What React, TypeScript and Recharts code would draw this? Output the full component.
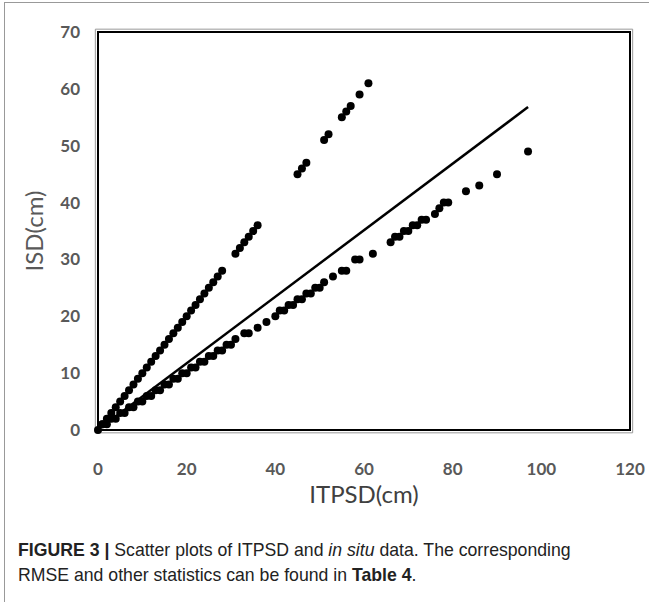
import React from "react";
import {
  ScatterChart,
  Scatter,
  XAxis,
  YAxis,
  ZAxis,
  ReferenceArea,
  Label
} from "recharts";

// ITPSD (x) vs in situ snow depth (y), both in cm
const upperX = [0, 1, 2, 3, 4, 5, 6, 7, 8, 9, 10, 11, 12, 13, 14, 15, 16, 17, 18, 19, 20, 21, 22, 23, 24, 25, 26, 27, 28, 31, 32, 33, 34, 35, 36, 45, 46, 47, 51, 52, 55, 56, 57, 59, 61];
const upperY = [0, 1, 2, 3, 4, 5, 6, 7, 8, 9, 10, 11, 12, 13, 14, 15, 16, 17, 18, 19, 20, 21, 22, 23, 24, 25, 26, 27, 28, 31, 32, 33, 34, 35, 36, 45, 46, 47, 51, 52, 55, 56, 57, 59, 61];

const lowerX = [1, 2, 3, 4, 5, 6, 7, 8, 9, 10, 11, 12, 13, 14, 15, 16, 17, 18, 19, 20, 21, 22, 23, 24, 25, 26, 27, 28, 29, 30, 31, 33, 34, 36, 38, 40, 41, 42, 43, 44, 45, 46, 47, 48, 49, 50, 51, 53, 55, 56, 58, 59, 62, 66, 67, 68, 69, 70, 71, 72, 73, 74, 76, 77, 78, 79, 83, 86, 90, 97];
const lowerY = [1, 1, 2, 2, 3, 3, 4, 4, 5, 5, 6, 6, 7, 7, 8, 8, 9, 9, 10, 10, 11, 11, 12, 12, 13, 13, 14, 14, 15, 15, 16, 17, 17, 18, 19, 20, 21, 21, 22, 22, 23, 23, 24, 24, 25, 25, 26, 27, 28, 28, 30, 30, 31, 33, 34, 34, 35, 35, 36, 36, 37, 37, 38, 39, 40, 40, 42, 43, 45, 49];

// fitted line end points
const fitX = [1, 97];
const fitY = [0.6, 56.8];

const xTicks = [0, 20, 40, 60, 80, 100, 120];
const yTicks = [0, 10, 20, 30, 40, 50, 60, 70];

const toPoints = (xs: number[], ys: number[]) => xs.map((x, i) => ({ x, y: ys[i] }));

const upper = toPoints(upperX, upperY);
const lower = toPoints(lowerX, lowerY);
const fit = toPoints(fitX, fitY);

const tickStyle = { fill: "#595959", fontFamily: "Lato", fontWeight: 700, fontSize: 17 };

const Dot = (props: any) => <circle cx={props.cx} cy={props.cy} r={4} fill="#000" />;
const NoDot = () => <g />;

const YLabel = (props: any) => {
  const vb = props.viewBox;
  const cx = vb.x + 33;
  const cy = vb.y + vb.height / 2;
  return (
    <text
      x={cx}
      y={cy}
      transform={`rotate(-90 ${cx} ${cy})`}
      textAnchor="middle"
      dominantBaseline="central"
      fill="#595959"
      fontFamily="Lato"
      fontSize={24}
    >
      ISD(cm)
    </text>
  );
};

export default function App() {
  return (
    <div
      style={{
        position: "absolute",
        left: 0,
        top: 0,
        width: 649,
        height: 602,
        background: "#fff",
        overflow: "hidden"
      }}
    >
      <div
        style={{
          position: "absolute",
          left: 4,
          top: 2,
          width: 660,
          height: 620,
          borderLeft: "1px solid #999",
          borderTop: "1px solid #999"
        }}
      />
      <div style={{ position: "absolute", left: 0, top: 0 }}>
        <ScatterChart width={649} height={520} margin={{ top: 32, right: 19, bottom: 34, left: 0 }}>
          <XAxis
            type="number"
            dataKey="x"
            domain={[0, 120]}
            ticks={xTicks}
            tickLine={false}
            axisLine={false}
            tickSize={0}
            tickMargin={33}
            height={56}
            tick={tickStyle}
          >
            <Label
              value="ITPSD(cm)"
              position="bottom"
              offset={0}
              fill="#404040"
              fontFamily="Lato"
              fontSize={24}
            />
          </XAxis>
          <YAxis
            type="number"
            dataKey="y"
            domain={[0, 70]}
            ticks={yTicks}
            tickLine={false}
            axisLine={false}
            tickSize={0}
            tickMargin={18}
            width={98}
            tick={tickStyle}
          >
            <Label content={YLabel} />
          </YAxis>
          <ZAxis range={[50, 50]} />
          <ReferenceArea
            x1={-0.6}
            x2={120.6}
            y1={-0.5}
            y2={70.5}
            ifOverflow="visible"
            fill="none"
            stroke="#999"
            strokeWidth={1}
          />
          <ReferenceArea x1={0} x2={120} y1={0} y2={70} fill="none" stroke="#000" strokeWidth={2} />
          <Scatter data={upper} shape={Dot} isAnimationActive={false} />
          <Scatter data={lower} shape={Dot} isAnimationActive={false} />
          <Scatter
            data={fit}
            shape={NoDot}
            line={{ stroke: "#000", strokeWidth: 2.5 }}
            isAnimationActive={false}
          />
        </ScatterChart>
      </div>
      <div
        style={{
          position: "absolute",
          left: 18,
          top: 537,
          width: 700,
          transform: "scaleX(0.93)",
          transformOrigin: "0 0",
          fontFamily: "'Liberation Sans', Arial, sans-serif",
          fontSize: 19,
          lineHeight: "25px",
          color: "#222"
        }}
      >
        <b>FIGURE 3 |</b> Scatter plots of ITPSD and <i>in situ</i> data. The corresponding
        <br />
        RMSE and other statistics can be found in <b>Table 4</b>.
      </div>
    </div>
  );
}
